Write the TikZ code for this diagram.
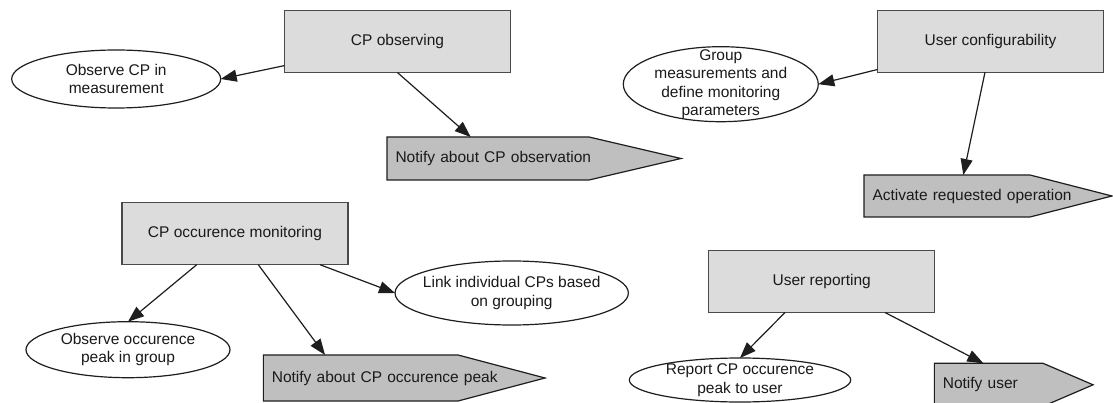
\documentclass[tikz,border=0pt]{standalone}
\usepackage{fontspec}
\setmainfont{Liberation Sans}
\usetikzlibrary{shapes.geometric,arrows.meta}
\pgfdeclarelayer{background}
\pgfsetlayers{background,main}
\definecolor{boxfill}{HTML}{DCDCDC}
\definecolor{boxline}{HTML}{4A4A4A}
\definecolor{sigfill}{HTML}{BFBFBF}
\definecolor{inkline}{HTML}{1E1E1E}
\definecolor{txt}{HTML}{1A1A1A}
\begin{document}
\begin{tikzpicture}[x=1pt,y=-1pt,
  every node/.style={font=\fontsize{15.5}{18.5}\selectfont, text=txt},
  task/.style={rectangle, draw=boxline, fill=boxfill, line width=1.2pt,
    minimum width=226pt, minimum height=62pt, inner sep=0pt, outer sep=0pt},
  act/.style={ellipse, draw=inkline, fill=white, line width=1.2pt,
    inner sep=0pt, outer sep=0pt},
  signalbox/.style={rectangle, inner xsep=8.5pt, inner ysep=0pt,
    outer sep=0pt, align=left},
  signalshape/.style={draw=inkline, fill=sigfill, line width=1.2pt, line join=miter},
  link/.style={draw=inkline, line width=1.2pt, -{Triangle[length=16pt,width=12pt]}}
]
\useasboundingbox (0,0) rectangle (1113,403);

% main functions
\node[task] (obs)  at (397.5,41.6)  {CP observing};
\node[task] (ucfg) at (990.5,41.2)  {User configurability};
\node[task] (mon)  at (235,233.7)   {CP occurence monitoring};
\node[task] (urep) at (821.7,281.5) {User reporting};

% activities
\node[act, minimum width=209pt, minimum height=58pt,
  label={[align=center]center:{Observe CP in\\measurement}}] (eObs) at (116.2,79) {};
\node[act, minimum width=195pt, minimum height=75pt,
  label={[align=center]center:{Group\\measurements and\\define monitoring\\parameters}}] (eGroup) at (720.8,84.2) {};
\node[act, minimum width=204pt, minimum height=56pt,
  label={[align=center]center:{Observe occurence\\peak in group}}] (ePeak) at (128,349.7) {};
\node[act, minimum width=233.4pt, minimum height=64pt,
  label={[align=center]center:{Link individual CPs based\\on grouping}}] (eLink) at (511.7,293) {};
\node[act, minimum width=221.4pt, minimum height=44pt,
  label={[align=center]center:{Report CP occurence\\peak to user}}] (eReport) at (740,380) {};

% outgoing signals
\node[signalbox, text width=277pt, minimum height=43pt] (nObs) at (534,158.5) {Notify about CP observation};
\node[signalbox, text width=231pt, minimum height=42pt] (nAct) at (988,196) {Activate requested operation};
\node[signalbox, text width=264.7pt, minimum height=46pt] (nPeak) at (404.2,378) {Notify about CP occurence peak};
\node[signalbox, text width=141.7pt, minimum height=43pt] (nUser) at (1013.7,384.8) {Notify user};

\begin{pgfonlayer}{background}
  \fill[white] (0,0) rectangle (1113,403);
  \draw[signalshape] (nObs.north west) -- ([xshift=-92pt]nObs.north east) -- (nObs.east)
    -- ([xshift=-92pt]nObs.south east) -- (nObs.south west) -- cycle;
  \draw[signalshape] (nAct.north west) -- ([xshift=-82pt]nAct.north east) -- (nAct.east)
    -- ([xshift=-82pt]nAct.south east) -- (nAct.south west) -- cycle;
  \draw[signalshape] (nPeak.north west) -- ([xshift=-87pt]nPeak.north east) -- (nPeak.east)
    -- ([xshift=-87pt]nPeak.south east) -- (nPeak.south west) -- cycle;
  \draw[signalshape] (nUser.north west) -- ([xshift=-50pt]nUser.north east) -- (nUser.east)
    -- ([xshift=-50pt]nUser.south east) -- (nUser.south west) -- cycle;
\end{pgfonlayer}

% connectors
\draw[link] ([yshift=-24pt]obs.west) -- (eObs.east);
\draw[link] (obs.south) -- ([xshift=83.7pt]nObs.north west);
\draw[link] ([yshift=2.7pt]ucfg.south west) -- (eGroup.east);
\draw[link] ([xshift=-5.5pt]ucfg.south) -- ([xshift=99.3pt]nAct.north west);
\draw[link] ([xshift=-38.3pt]mon.south) -- (ePeak.north);
\draw[link] ([xshift=23.3pt]mon.south) -- ([xshift=61.7pt]nPeak.north west);
\draw[link] ([xshift=85pt]mon.south) -- (eLink.west);
\draw[link] ([xshift=-36.7pt]urep.south) -- (eReport.north);
\draw[link] ([xshift=63.3pt]urep.south) -- ([xshift=49pt]nUser.north west);
\end{tikzpicture}
\end{document}
